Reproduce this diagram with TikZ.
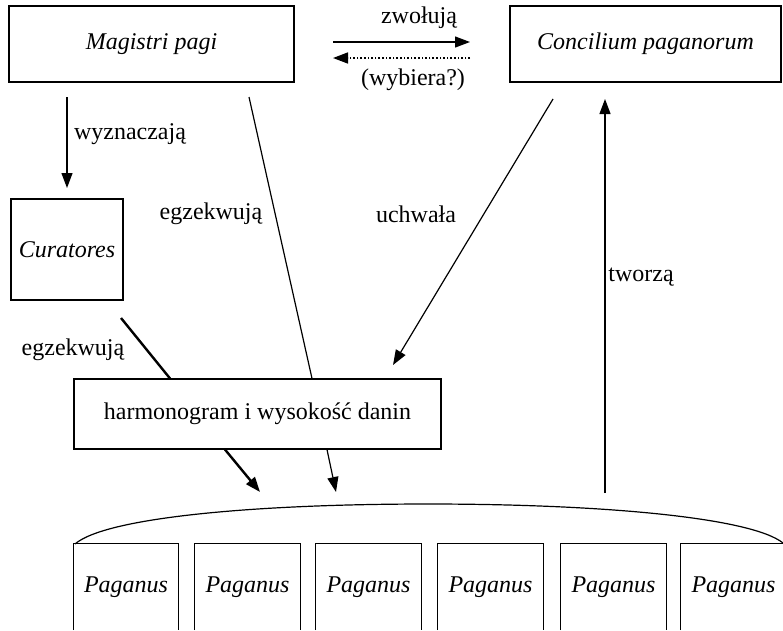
\documentclass[tikz,border=0pt]{standalone}
\usepackage{fontspec}
\setmainfont{Liberation Serif}
\usetikzlibrary{arrows.meta}
\begin{document}
\begin{tikzpicture}[x=1pt,y=-1pt,
  every node/.style={font=\fontsize{24}{28}\selectfont},
  box/.style={draw,line width=1.1pt,inner sep=0pt,font=\fontsize{24}{28}\selectfont\itshape},
  pag/.style={inner sep=0pt,minimum width=105pt,minimum height=86pt,font=\fontsize{24}{28}\selectfont\itshape},
  lbl/.style={inner sep=0pt},
  arr/.style={line width=1.2pt,-{Triangle[length=15pt,width=11pt]}},
  thickarr/.style={line width=2.4pt,-{Triangle[length=15pt,width=11pt]}},
  thin/.style={line width=1.2pt},
  thickline/.style={line width=2.4pt}]
\useasboundingbox (0,0) rectangle (783,630);
\clip (0,0) rectangle (783,630);
% boxes
\node[box,minimum width=285pt,minimum height=76pt] (mag) at (151.5,44) {Magistri pagi};
\node[box,minimum width=271pt,minimum height=76pt] (con) at (645.5,44) {Concilium paganorum};
\node[box,minimum width=112pt,minimum height=101pt] (cur) at (67,249.5) {Curatores};
\node[box,minimum width=367pt,minimum height=70pt,font=\fontsize{24}{28}\selectfont] (har) at (257.5,414) {harmonogram i wysokość danin};
% paganus boxes
\foreach \i/\x in {1/126,2/247.5,3/368.5,4/490.5,5/613.5,6/733.5}{
  \node[pag] (p\i) at (\x,587) {Paganus};
  \draw[thin] (p\i.south west) |- (p\i.north east) -- (p\i.south east);
}
% arc
\coordinate (al) at (75,544);
\coordinate (ar) at (783,543);
\draw[thin] (al) .. controls (105,518) and (250,504) .. (428,504) .. controls (606,504) and (752,518) .. (ar);
% top arrows
\coordinate (zl) at (333,42);
\coordinate (zr) at (470,42);
\coordinate (wl) at (333,58);
\coordinate (wr) at (470,58);
\draw[arr] (zl) -- (zr);
\draw[line width=1.6pt,dotted,-{Triangle[length=15pt,width=11pt]}] (wr) -- (wl);
\node[lbl] (tz) at (419,18) {zwołują};
\node[lbl] (tw) at (413,80) {(wybiera?)};
% wyznaczaja
\coordinate (wy1) at (67,97);
\draw[arr] (wy1) -- (cur.north |- 0,188);
\node[lbl] (twy) at (130,134) {wyznaczają};
% egzekwuja (curatores)
\coordinate (ec1) at (121,318);
\draw[thickline] (ec1) -- (har.north -| 170,0);
\coordinate (ec2) at (260,492);
\draw[thickarr] (har.south -| 225,0) -- (ec2);
\node[lbl] (te1) at (73,350) {egzekwują};
% egzekwuja (magistri)
\coordinate (em1) at (249,97);
\draw[thin] (em1) -- (har.north -| 312,0);
\coordinate (em2) at (336,492);
\draw[arr] (har.south -| 327,0) -- (em2);
\node[lbl] (te2) at (211,214) {egzekwują};
% uchwala
\coordinate (u1) at (553,99);
\coordinate (u2) at (393,365);
\draw[arr] (u1) -- (u2);
\node[lbl] (tu) at (416,214) {uchwała};
% tworza
\coordinate (t1) at (605,493);
\coordinate (t2) at (605,99);
\draw[arr] (t1) -- (t2);
\node[lbl] (tt) at (641,277) {tworzą};
\end{tikzpicture}
\end{document}
